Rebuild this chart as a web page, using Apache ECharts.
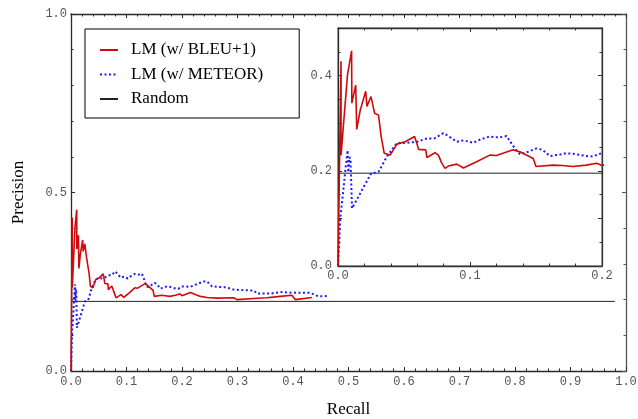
<!DOCTYPE html>
<html>
<head>
<meta charset="utf-8">
<script src="https://cdn.jsdelivr.net/npm/echarts@6/dist/echarts.min.js"></script>
<style>
  html, body { margin: 0; padding: 0; background: #fff; }
  #chart { width: 638px; height: 419px; }
</style>
</head>
<body>
<div id="chart"></div>
<script>
// Precision–recall curves for two language-model rankings against a random baseline.
const bleuRecall = [0, 0.0023, 0.0023, 0.0072, 0.0103, 0.0105, 0.0134, 0.0142, 0.0169, 0.021, 0.0219, 0.025, 0.0264, 0.0277, 0.0307, 0.0327, 0.035, 0.0395, 0.0446, 0.0509, 0.058, 0.0597, 0.061, 0.0665, 0.0673, 0.0735, 0.076, 0.0786, 0.0811, 0.0836, 0.09, 0.095, 0.105, 0.115, 0.12, 0.1327, 0.1378, 0.1479, 0.150, 0.163, 0.17, 0.178, 0.188, 0.196, 0.2, 0.215, 0.233, 0.245, 0.263, 0.293, 0.299, 0.329, 0.353, 0.377, 0.398, 0.404, 0.434];
const bleuPrecision = [0, 0.43, 0.233, 0.402, 0.452, 0.342, 0.38, 0.287, 0.328, 0.367, 0.335, 0.356, 0.352, 0.321, 0.317, 0.272, 0.237, 0.233, 0.256, 0.261, 0.272, 0.258, 0.245, 0.244, 0.228, 0.238, 0.233, 0.216, 0.205, 0.21, 0.214, 0.206, 0.219, 0.233, 0.232, 0.244, 0.24, 0.226, 0.209, 0.212, 0.211, 0.209, 0.212, 0.216, 0.211, 0.22, 0.209, 0.206, 0.204, 0.205, 0.2, 0.203, 0.205, 0.209, 0.212, 0.2, 0.206];

const meteorRecall = [0, 0.0018, 0.0043, 0.0058, 0.0073, 0.0078, 0.0088, 0.0092, 0.0095, 0.0106, 0.0144, 0.0194, 0.0252, 0.027, 0.031, 0.037, 0.0446, 0.052, 0.06, 0.0673, 0.073, 0.0798, 0.083, 0.09, 0.095, 0.1025, 0.108, 0.115, 0.122, 0.1277, 0.134, 0.1378, 0.144, 0.1504, 0.155, 0.1605, 0.168, 0.173, 0.18, 0.188, 0.193, 0.1995, 0.215, 0.239, 0.245, 0.254, 0.281, 0.293, 0.317, 0.33, 0.335, 0.36, 0.377, 0.401, 0.43, 0.446, 0.465];
const meteorPrecision = [0, 0.103, 0.166, 0.208, 0.243, 0.197, 0.229, 0.233, 0.22, 0.121, 0.14, 0.166, 0.195, 0.195, 0.199, 0.23, 0.258, 0.259, 0.261, 0.268, 0.268, 0.279, 0.274, 0.261, 0.264, 0.259, 0.266, 0.272, 0.27, 0.273, 0.247, 0.235, 0.24, 0.247, 0.244, 0.231, 0.234, 0.237, 0.235, 0.231, 0.23, 0.237, 0.236, 0.251, 0.251, 0.237, 0.234, 0.228, 0.226, 0.225, 0.217, 0.217, 0.221, 0.219, 0.219, 0.209, 0.21];

const randomRecall = [0, 0.98];
const randomPrecision = [0.195, 0.195];

const seriesNames = ['LM (w/ BLEU+1)', 'LM (w/ METEOR)', 'Random'];
const mainTicks = { x: [0, 1, 0.1], y: [0, 1, 0.5] };
const insetTicks = { x: [0, 0.2, 0.1], y: [0, 0.5, 0.1] };

const pairs = (xs, ys) => xs.map((x, i) => [x, ys[i]]);

const SERIF = 'Liberation Serif, Times New Roman, serif';
const MONO = 'Liberation Mono, Courier New, monospace';
const AXIS_COLOR = '#2a2a2a';

function axis(kind, grid, range, opts) {
  const o = Object.assign({ labels: false, minor: 5, margin: 4, pos: null, fmt: null, color: AXIS_COLOR }, opts);
  return {
    type: 'value',
    gridIndex: grid,
    position: o.pos,
    min: range[0], max: range[1], interval: range[2],
    axisLine: { show: true, onZero: false, lineStyle: { color: o.color, width: 1.3 } },
    axisTick: { show: true, inside: true, length: 4, lineStyle: { color: o.color, width: 1 } },
    minorTick: { show: true, splitNumber: o.minor, length: 2.5, lineStyle: { color: o.color, width: 1 } },
    splitLine: { show: false },
    minorSplitLine: { show: false },
    axisLabel: {
      show: o.labels,
      margin: o.margin,
      fontFamily: MONO,
      fontSize: 12,
      color: '#555',
      showMaxLabel: o.showMax !== false,
      formatter: o.fmt || (v => v.toFixed(1))
    },
    name: o.name || '',
    nameLocation: 'middle',
    nameGap: o.nameGap || 0,
    nameRotate: o.nameRotate,
    nameTextStyle: { fontFamily: SERIF, fontSize: 17, color: '#000' }
  };
}

function curves(xi, yi) {
  return [
    {
      name: seriesNames[0], type: 'line', xAxisIndex: xi, yAxisIndex: yi,
      data: pairs(bleuRecall, bleuPrecision), symbol: 'none', z: 4,
      lineStyle: { color: '#d00a0a', width: 1.6 }, itemStyle: { color: '#d00a0a' }
    },
    {
      name: seriesNames[1], type: 'line', xAxisIndex: xi, yAxisIndex: yi,
      data: pairs(meteorRecall, meteorPrecision), symbol: 'none', z: 3,
      lineStyle: { color: '#1a1aff', width: 2, type: [2, 2.5] }, itemStyle: { color: '#1a1aff' }
    },
    {
      name: seriesNames[2], type: 'line', xAxisIndex: xi, yAxisIndex: yi,
      data: pairs(randomRecall, randomPrecision), symbol: 'none', z: 2,
      lineStyle: { color: '#222', width: 1 }, itemStyle: { color: '#222' }
    }
  ];
}

const chart = echarts.init(document.getElementById('chart'), null, { renderer: 'canvas' });
chart.setOption({
  animation: false,
  backgroundColor: '#fff',
  grid: [
    { left: 71, top: 14, width: 555, height: 357, show: false, outerBoundsMode: 'none', containLabel: false },
    { left: 338, top: 28, width: 264, height: 238, show: true, backgroundColor: '#fff', borderColor: '#555', borderWidth: 1, z: 5, outerBoundsMode: 'none', containLabel: false }
  ],
  legend: {
    orient: 'vertical',
    left: 85, top: 29,
    data: seriesNames,
    backgroundColor: '#fff',
    borderColor: '#000', borderWidth: 1,
    padding: [11, 36, 9, 14],
    itemGap: 4.5,
    itemWidth: 18, itemHeight: 14,
    // line-only keys: hide the marker drawn in the middle of each key
    itemStyle: { color: 'rgba(0,0,0,0)', borderWidth: 0, opacity: 0 },
    textStyle: { fontFamily: SERIF, fontSize: 17, color: '#000', padding: [0, 0, 0, 8], lineHeight: 20 },
    z: 10
  },
  xAxis: [
    axis('x', 0, mainTicks.x, { labels: true, pos: 'bottom', margin: 5, name: 'Recall', nameGap: 30 }),
    axis('x', 0, mainTicks.x, { pos: 'top' }),
    Object.assign(axis('x', 1, insetTicks.x, { labels: true, pos: 'bottom', margin: 4, color: '#333' }), { z: 6 }),
    Object.assign(axis('x', 1, insetTicks.x, { pos: 'top', color: '#333' }), { z: 6 })
  ],
  yAxis: [
    axis('y', 0, mainTicks.y, { labels: true, pos: 'left', margin: 4, name: 'Precision', nameGap: 44, nameRotate: 90 }),
    axis('y', 0, mainTicks.y, { pos: 'right', color: '#555' }),
    Object.assign(axis('y', 1, insetTicks.y, {
      labels: true, pos: 'left', margin: 6, minor: 2, showMax: false,
      fmt: v => (Math.round(v * 10) % 2 === 0 ? v.toFixed(1) : '')
    }), { z: 6 }),
    Object.assign(axis('y', 1, insetTicks.y, { pos: 'right', minor: 2, color: '#333' }), { z: 6 })
  ],
  series: [].concat(curves(0, 0), curves(2, 2).map(s => Object.assign(s, { z: s.z + 6 })))
});
</script>
</body>
</html>
